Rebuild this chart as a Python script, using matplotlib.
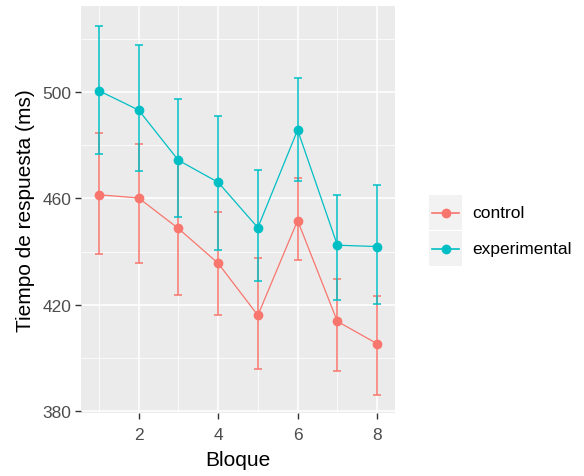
import matplotlib.pyplot as plt
from matplotlib.patches import Rectangle
from matplotlib.lines import Line2D

plt.rcParams['font.family'] = ['Liberation Sans', 'DejaVu Sans']

# Data
bloques = [1, 2, 3, 4, 5, 6, 7, 8]
control_mean = [461.4, 460.2, 448.7, 435.6, 416.0, 451.7, 413.7, 405.3]
control_low = [439.2, 435.7, 423.8, 416.0, 395.8, 436.9, 395.2, 385.8]
control_high = [484.5, 480.4, 473.8, 454.8, 437.5, 467.8, 429.8, 423.3]
exp_mean = [500.6, 493.3, 474.4, 466.1, 449.0, 485.8, 442.4, 441.9]
exp_low = [476.9, 470.3, 453.1, 440.6, 428.8, 466.6, 421.6, 420.3]
exp_high = [525.0, 517.9, 497.6, 491.1, 470.9, 505.3, 461.4, 465.0]

groups = ["control", "experimental"]
colors = ["#F8766D", "#00BFC4"]

fig = plt.figure(figsize=(5.84, 4.77), dpi=100)
ax = fig.add_axes([81 / 584, 63 / 477, 314 / 584, 407 / 477])
ax.set_facecolor("#EBEBEB")

series = [(control_mean, control_low, control_high), (exp_mean, exp_low, exp_high)]
for (m, lo, hi), c in zip(series, colors):
    yerr = [[a - b for a, b in zip(m, lo)], [b - a for a, b in zip(m, hi)]]
    ax.errorbar(bloques, m, yerr=yerr, fmt="none", ecolor=c, elinewidth=1.1,
                capsize=3, capthick=1.1, zorder=3)
    ax.plot(bloques, m, color=c, lw=0.9, zorder=4)
    ax.plot(bloques, m, "o", color=c, ms=6, zorder=5)

ax.set_xlim(0.55, 8.45)
ax.set_ylim(379.2, 532.5)
ax.set_xticks([2, 4, 6, 8])
ax.set_yticks([380, 420, 460, 500])
ax.set_xticks([1, 3, 5, 7], minor=True)
ax.set_yticks([400, 440, 480, 520], minor=True)
ax.grid(which="major", color="white", lw=1.1)
ax.grid(which="minor", color="white", lw=0.55)
ax.set_axisbelow(True)
for s in ax.spines.values():
    s.set_visible(False)
ax.tick_params(which="major", length=4, width=1, color="#333333",
               labelcolor="#4D4D4D", labelsize=12.5, pad=3)
ax.tick_params(axis="x", which="major", pad=6)
ax.tick_params(which="minor", length=0)

ax.set_xlabel("Bloque", fontsize=15, labelpad=6)
ax.set_ylabel("Tiempo de respuesta (ms)", fontsize=15, labelpad=5)

# legend with gray key boxes
for i, (g, c) in enumerate(zip(groups, colors)):
    y0 = 477 - 231 - i * 36
    fig.patches.append(Rectangle((429 / 584, y0 / 477), 33 / 584, 35 / 477,
                                 transform=fig.transFigure, facecolor="#F2F2F2",
                                 edgecolor="none"))
    yc = (y0 + 17.5) / 477
    fig.lines.append(Line2D([432 / 584, 459 / 584], [yc, yc], transform=fig.transFigure,
                            color=c, lw=1.2))
    fig.lines.append(Line2D([445.5 / 584], [yc], transform=fig.transFigure,
                            color=c, marker="o", ms=6))
    fig.text(472 / 584, yc, g, fontsize=12.5, va="center", ha="left", color="black")

fig.savefig("out.png", dpi=100)
